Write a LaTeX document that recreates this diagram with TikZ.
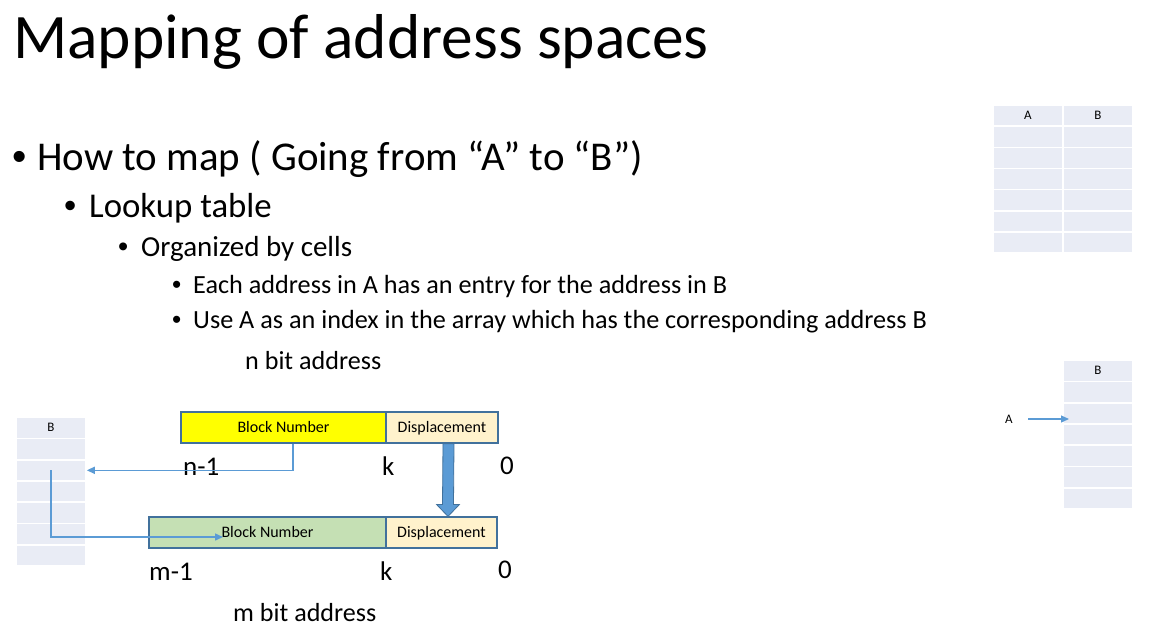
\documentclass[tikz,border=0pt]{standalone}
\usepackage{fontspec}
\setmainfont{Carlito}
\newfontfamily\dotfont{Liberation Sans}
\usetikzlibrary{arrows.meta,calc}

\definecolor{cellfill}{RGB}{233,236,245}
\definecolor{linkblue}{RGB}{91,155,213}
\definecolor{boxedge}{RGB}{65,113,156}
\definecolor{blockyellow}{RGB}{255,255,0}
\definecolor{blockgreen}{RGB}{197,224,180}
\definecolor{dispfill}{RGB}{255,242,204}

\newcommand{\fs}[1]{\fontsize{#1}{1.2\dimexpr #1pt\relax}\selectfont}
% bullet hanging to the left of the item text
\newcommand{\itemdot}[1]{\llap{\makebox[#1][l]{\dotfont •}}}

\tikzset{
  txt/.style={anchor=base west, inner sep=0pt, text=black},
  cell/.style={rectangle, fill=cellfill, draw=white, line width=1.6pt,
               minimum width=70pt, minimum height=21.2pt, inner sep=0pt,
               font=\fs{13}},
  field/.style={rectangle, draw=boxedge, line width=1.2pt, inner sep=0pt,
                minimum height=31pt, text height=11pt, text depth=2pt,
                font=\fs{16}},
  bitlabel/.style={anchor=base west, inner sep=0pt, font=\fs{27}},
  conn/.style={draw=linkblue, line width=1.5pt,
               -{Triangle[length=8pt,width=7pt]}},
  bigarrow/.style={fill=linkblue, draw=boxedge, line width=0.8pt},
}

\begin{document}
\begin{tikzpicture}[x=1pt,y=-1pt]
\useasboundingbox (0,0) rectangle (1160,633);

% title and bullet list
\node[txt, font=\fs{63.4}] (title) at (13,58) {Mapping of address spaces};
\node[txt, font=\fs{40.9}] (l1) at (37,170) {\itemdot{25pt}How to map ( Going from “A” to “B”)};
\node[txt, font=\fs{34.8}] (l2) at (89,217) {\itemdot{25pt}Lookup table};
\node[txt, font=\fs{29}] (l3) at (141,256) {\itemdot{23pt}Organized by cells};
\node[txt, font=\fs{26.2}] (l4a) at (193,293) {\itemdot{21pt}Each address in A has an entry for the address in B};
\node[txt, font=\fs{26.2}] (l4b) at (193,328) {\itemdot{21pt}Use A as an index in the array which has the corresponding address B};
\node[txt, font=\fs{26.1}] (nbits) at (245,369) {n bit address};
\node[txt, font=\fs{26.1}] (mbits) at (233,621) {m bit address};

% lookup table with columns A and B
\foreach \r in {1,...,7}{
  \node[cell] (ta\r) at (1028,{115.6+(\r-1)*21.15}) {};
  \node[cell] (tb\r) at (1098,{115.6+(\r-1)*21.15}) {};
}
\node[font=\fs{13}] at (ta1) {A};
\node[font=\fs{13}] at (tb1) {B};

% table B on the left
\foreach \r in {1,...,7}{
  \node[cell] (lb\r) at (51,{427.7+(\r-1)*21.3}) {};
}
\node[font=\fs{13}] at (lb1) {B};

% table B on the right
\foreach \r in {1,...,7}{
  \node[cell] (rb\r) at (1098,{370.7+(\r-1)*21.3}) {};
}
\node[font=\fs{13}] at (rb1) {B};

% n bit address fields
\node[field, fill=blockyellow, minimum width=205pt] (yb) at (283.5,427.5) {Block Number};
\node[field, fill=dispfill, minimum width=112pt] (d1) at (442,427.5) {Displacement};
% m bit address fields
\node[field, fill=blockgreen, minimum width=237pt] (gb) at (267.5,532.5) {Block Number};
\node[field, fill=dispfill, minimum width=111pt] (d2) at (441.5,532.5) {Displacement};

% bit positions
\node[bitlabel] (n1) at (183,475) {n-1};
\node[bitlabel] (k1) at (382,475) {k};
\node[bitlabel] (z1) at (500,474) {0};
\node[bitlabel] (m1) at (149,580) {m-1};
\node[bitlabel] (k2) at (380,580) {k};
\node[bitlabel] (z2) at (498,578) {0};

% displacement is copied unchanged
\coordinate (bs) at ([xshift=6.5pt]d1.south);
\coordinate (bt) at ([xshift=6.5pt]d2.north);
\draw[bigarrow] ([xshift=-5.5pt]bs) -- ([xshift=5.5pt]bs)
  -- ([xshift=5.5pt,yshift=12pt]bt) -- ([xshift=11.5pt,yshift=12pt]bt)
  -- (bt) -- ([xshift=-11.5pt,yshift=12pt]bt)
  -- ([xshift=-5.5pt,yshift=12pt]bt) -- cycle;

% block number goes through table B
\draw[conn] ([xshift=9.5pt]yb.south) |- (lb3.east);
\coordinate (gin) at (223,537);
\draw[conn] (lb3.center) |- (gin);

% index A points into table B
\node[font=\fs{13}] (ra) at (1009,419) {A};
\coordinate (rin) at (1069,419);
\draw[conn, line width=1.2pt] ([xshift=12pt]ra.east) -- (rin);
\end{tikzpicture}
\end{document}
